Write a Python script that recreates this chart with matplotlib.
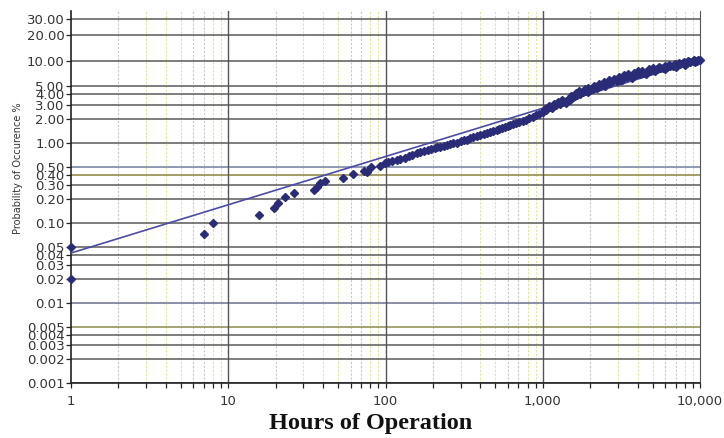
import numpy as np
import matplotlib.pyplot as plt
from matplotlib.ticker import FixedLocator, FixedFormatter, NullFormatter

# failure data: hours of operation and cumulative probability (%)
hours_early = [1, 1, 7, 8, 15.7, 19.6, 20.8, 23.0, 26.3, 35.3, 36.5, 38.3, 41.2,
               53.9, 62.4, 73.0, 75.9, 80.5, 92.3, 99.3]
prob_early = [0.05, 0.02, 0.073, 0.10, 0.126, 0.153, 0.180, 0.210, 0.240, 0.260,
              0.285, 0.315, 0.339, 0.370, 0.408, 0.452, 0.432, 0.499, 0.523, 0.560]

hours_main = [104, 110, 118, 124, 133, 140, 148, 158, 165, 175, 186, 195, 205, 213,
              222, 235, 246, 258, 270, 285, 300, 315, 330, 345, 362, 382, 400, 420,
              442, 462, 485, 512, 530, 552, 575, 600, 622, 647, 675, 710, 749, 780,
              820, 867, 900, 950, 1004, 1050, 1112, 1160, 1220, 1287, 1340, 1400,
              1450, 1490, 1550, 1600, 1660, 1726, 1800, 1880, 1998, 2080, 2200, 2313,
              2400, 2540, 2677, 2800, 2950, 3099, 3250, 3420, 3588, 3750, 3950, 4154,
              4350, 4600, 4809, 5050, 5300, 5567, 5850, 6150, 6446, 6750, 7100, 7462,
              7800, 8200, 8639, 9000, 9500, 10000]
prob_main = [0.585, 0.600, 0.616, 0.630, 0.652, 0.690, 0.705, 0.743, 0.770, 0.790,
             0.821, 0.845, 0.870, 0.883, 0.905, 0.930, 0.949, 0.975, 0.990, 1.014,
             1.050, 1.080, 1.105, 1.150, 1.180, 1.222, 1.260, 1.300, 1.332, 1.370,
             1.420, 1.451, 1.500, 1.540, 1.581, 1.640, 1.690, 1.747, 1.790, 1.850,
             1.904, 1.960, 2.050, 2.134, 2.200, 2.320, 2.426, 2.560, 2.797, 2.880,
             2.980, 3.089, 3.200, 3.300, 3.400, 3.460, 3.700, 3.850, 3.980, 4.100,
             4.220, 4.350, 4.525, 4.660, 4.850, 5.064, 5.200, 5.400, 5.585, 5.760,
             5.900, 6.074, 6.280, 6.480, 6.697, 6.850, 7.000, 7.178, 7.350, 7.550,
             7.694, 7.900, 8.080, 8.245, 8.420, 8.560, 8.711, 8.900, 9.100, 9.332,
             9.480, 9.650, 9.857, 10.00, 10.20, 10.41]

hours_upper = [1030, 1090, 1180, 1250, 1330, 1520, 1620, 1700, 1850, 1950, 2120, 2260,
               2450, 2620, 2850, 3050, 3300, 3500, 3800, 4050, 4300, 4700, 5000, 5450,
               5950, 6300, 6900, 7300, 7900, 8400, 9200, 9700]
prob_upper = [2.62, 2.85, 3.05, 3.25, 3.38, 3.82, 4.15, 4.35, 4.62, 4.80, 5.10, 5.40,
              5.70, 5.95, 6.20, 6.50, 6.80, 7.10, 7.35, 7.60, 7.80, 8.10, 8.35, 8.60,
              8.90, 9.10, 9.40, 9.60, 9.85, 10.05, 10.35, 10.50]

hours_lower = [1150, 1400, 1950, 2500, 3200, 3700, 4500, 5200, 6000, 7000, 8000, 9300]
prob_lower = [2.70, 3.15, 4.30, 5.05, 5.95, 6.40, 7.15, 7.60, 8.10, 8.70, 9.20, 9.90]

# Weibull fit
beta = 0.604
eta = 386000.0

ytick_vals = [0.001, 0.002, 0.003, 0.004, 0.005, 0.01, 0.02, 0.03, 0.04, 0.05,
              0.10, 0.20, 0.30, 0.40, 0.50, 1.00, 2.00, 3.00, 4.00, 5.00,
              10.00, 20.00, 30.00]
ytick_labels = ['0.001', '0.002', '0.003', '0.004', '0.005', '0.01', '0.02', '0.03',
                '0.04', '0.05', '0.10', '0.20', '0.30', '0.40', '0.50', '1.00',
                '2.00', '3.00', '4.00', '5.00', '10.00', '20.00', '30.00']
xtick_vals = [1, 10, 100, 1000, 10000]
xtick_labels = ['1', '10', '100', '1,000', '10,000']


def weib(p):
    p = np.clip(np.asarray(p, dtype=float), 1e-9, 99.999)
    return np.log(-np.log(1 - p / 100.0))


def weib_inv(w):
    return 100.0 * (1 - np.exp(-np.exp(w)))


fig = plt.figure(figsize=(7.24, 4.38), dpi=100)
ax = fig.add_axes([0.098, 0.1256, 0.869, 0.8493])
ax.set_xscale('log')
ax.set_yscale('function', functions=(weib, weib_inv))
ax.set_xlim(1, 10000)
ax.set_ylim(0.001, 36.3)

# horizontal grid at each labelled probability
hcolors = {0.005: '#8c8a50', 0.01: '#6a7090', 0.40: '#8c8240', 0.50: '#6f7fa0'}
for v in ytick_vals:
    ax.axhline(v, color=hcolors.get(v, '#5a5a5a'), lw=1.1, zorder=1)

# vertical grid: decades dark, in-between lines pale
for dec in [1, 10, 100, 1000]:
    for m in range(2, 10):
        c = '#dfe29a' if m in (3, 4, 5, 8, 9) else '#c8c8c8'
        ax.axvline(dec * m, color=c, lw=0.8, ls=(0, (2, 1.5)), zorder=0.5)
    if dec > 1:
        ax.axvline(dec, color='#555555', lw=1.0, zorder=1)

ax.yaxis.set_major_locator(FixedLocator(ytick_vals))
ax.yaxis.set_major_formatter(FixedFormatter(ytick_labels))
ax.yaxis.set_minor_locator(FixedLocator([]))
ax.xaxis.set_major_locator(FixedLocator(xtick_vals))
ax.xaxis.set_major_formatter(FixedFormatter(xtick_labels))
ax.xaxis.set_minor_formatter(NullFormatter())
ax.tick_params(axis='both', which='both', direction='out', length=3.5, width=0.9,
               color='#222222', labelsize=9.5, labelcolor='#333333')
ax.tick_params(axis='y', pad=1)
ax.tick_params(axis='x', pad=5)

for s in ['left', 'bottom']:
    ax.spines[s].set_color('#222222')
    ax.spines[s].set_linewidth(1.2)
ax.spines['top'].set_visible(False)
ax.spines['right'].set_color('#555555')

# fitted line
h_fit = np.array([1.0, 10000.0])
p_fit = 100 * (1 - np.exp(-(h_fit / eta) ** beta))
ax.plot(h_fit, p_fit, color='#4b4ba8', lw=1.2, zorder=3)

mk = dict(ls='none', marker='D', ms=3.8, color='#2a2c78', zorder=4, clip_on=False)
ax.plot(hours_early, prob_early, **mk)
ax.plot(hours_main, prob_main, **mk)
ax.plot(hours_upper, prob_upper, **mk)
ax.plot(hours_lower, prob_lower, **mk)

fig.text(0.512, 1 - 424 / 438, 'Hours of Operation', ha='center', va='center',
         fontsize=17.5, fontweight='bold', family='Liberation Serif', color='#111111')
fig.text(18 / 724, 1 - 168 / 438, 'Probability of Occurence %', rotation=90,
         ha='center', va='center', fontsize=7, color='#333333')

fig.savefig('out.png', dpi=100)
